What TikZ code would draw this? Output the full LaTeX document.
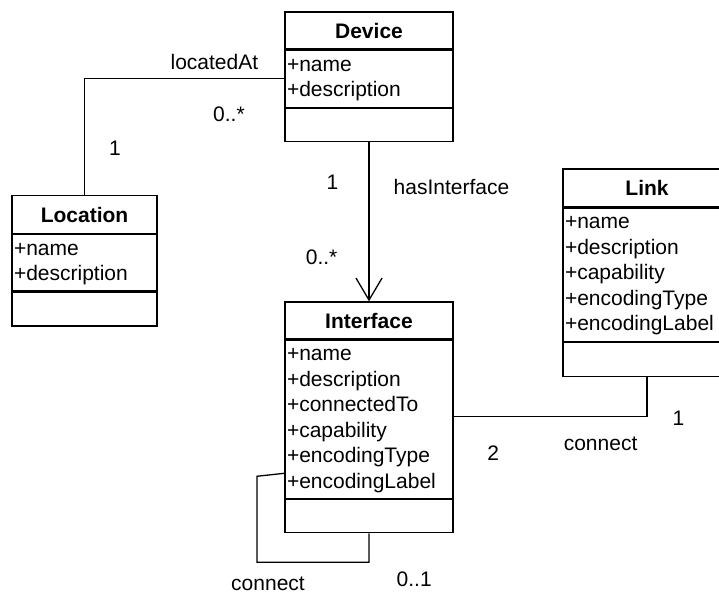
\documentclass[tikz,border=0pt]{standalone}
\usepackage{fontspec}
\setmainfont{Liberation Sans}
\usetikzlibrary{arrows.meta,positioning}

\newcommand{\umlfont}{\fontsize{21}{25.5}\selectfont}

\tikzset{
  classtitle/.style={draw,line width=1.3pt,inner sep=0pt,minimum width=168pt,
    minimum height=37pt,font=\umlfont\bfseries},
  classattr/.style={draw,line width=1.3pt,inner xsep=2pt,inner ysep=0pt,
    text width=164pt,align=left,font=\umlfont,
    execute at begin node=\strut,execute at end node=\strut},
  classops/.style={draw,line width=1.3pt,inner sep=0pt,minimum width=168pt,
    minimum height=33pt},
  assoc/.style={line width=1.3pt},
  lbl/.style={inner sep=0pt,font=\umlfont}
}

\begin{document}
\begin{tikzpicture}[x=1pt,y=-1pt]
  \useasboundingbox (0,0) rectangle (719,594);

  % classes
  \node [classtitle] (device) at (369,30.5) {Device};
  \node [classattr,minimum height=57pt,below=0pt of device] (device-attr)
    {+name\\+description};
  \node [classops,below=0pt of device-attr] (device-ops) {};

  \node [classtitle,minimum width=145pt,minimum height=38pt] (location) at (84.5,214.5) {Location};
  \node [classattr,text width=141pt,minimum height=56pt,below=0pt of location] (location-attr)
    {+name\\+description};
  \node [classops,minimum width=145pt,minimum height=34pt,below=0pt of location-attr] (location-ops) {};

  \node [classtitle] (interface) at (369,320.5) {Interface};
  \node [classattr,minimum height=158pt,below=0pt of interface] (interface-attr)
    {+name\\+description\\+connectedTo\\+capability\\+encodingType\\+encodingLabel};
  \node [classops,below=0pt of interface-attr] (interface-ops) {};

  \node [classtitle,minimum height=38pt] (link) at (647,188) {Link};
  \node [classattr,minimum height=133pt,below=0pt of link] (link-attr)
    {+name\\+description\\+capability\\+encodingType\\+encodingLabel};
  \node [classops,minimum height=34pt,below=0pt of link-attr] (link-ops) {};

  % associations
  \draw [assoc] (location.north) |- (device-attr.west)
    node [lbl,pos=0.2,right=24pt] (located-one) {1}
    node [lbl,pos=0.825,above=8pt] (located-name) {locatedAt}
    node [lbl,pos=1,below left=27pt and 39pt] (located-many) {0..*};

  \draw [assoc,-{Straight Barb[length=22pt,width=26pt]}] (device-ops.south) -- (interface.north)
    node [lbl,pos=0,below left=32pt and 30pt] (has-one) {1}
    node [lbl,pos=0,below right=36pt and 24pt] (has-name) {hasInterface}
    node [lbl,pos=1,above left=36pt and 31pt] (has-many) {0..*};

  \draw [assoc] ([yshift=3pt]interface-attr.east) -| (link-ops.south)
    node [lbl,pos=0,below right=29pt and 33pt] (conn-two) {2}
    node [lbl,pos=0.5,below left=20pt and 9pt] (conn-name) {connect}
    node [lbl,pos=1,below right=33pt and 25pt] (conn-one) {1};

  \draw [assoc] (interface-ops.south) -- ++(0,29)
    node [lbl,below right=9pt and 27pt] (self-opt) {0..1}
    -| ++(-112,-86)
    node [lbl,pos=0.25,below=14pt,xshift=-45pt] (self-name) {connect}
    -- ([yshift=-54pt]interface-attr.west);
\end{tikzpicture}
\end{document}
